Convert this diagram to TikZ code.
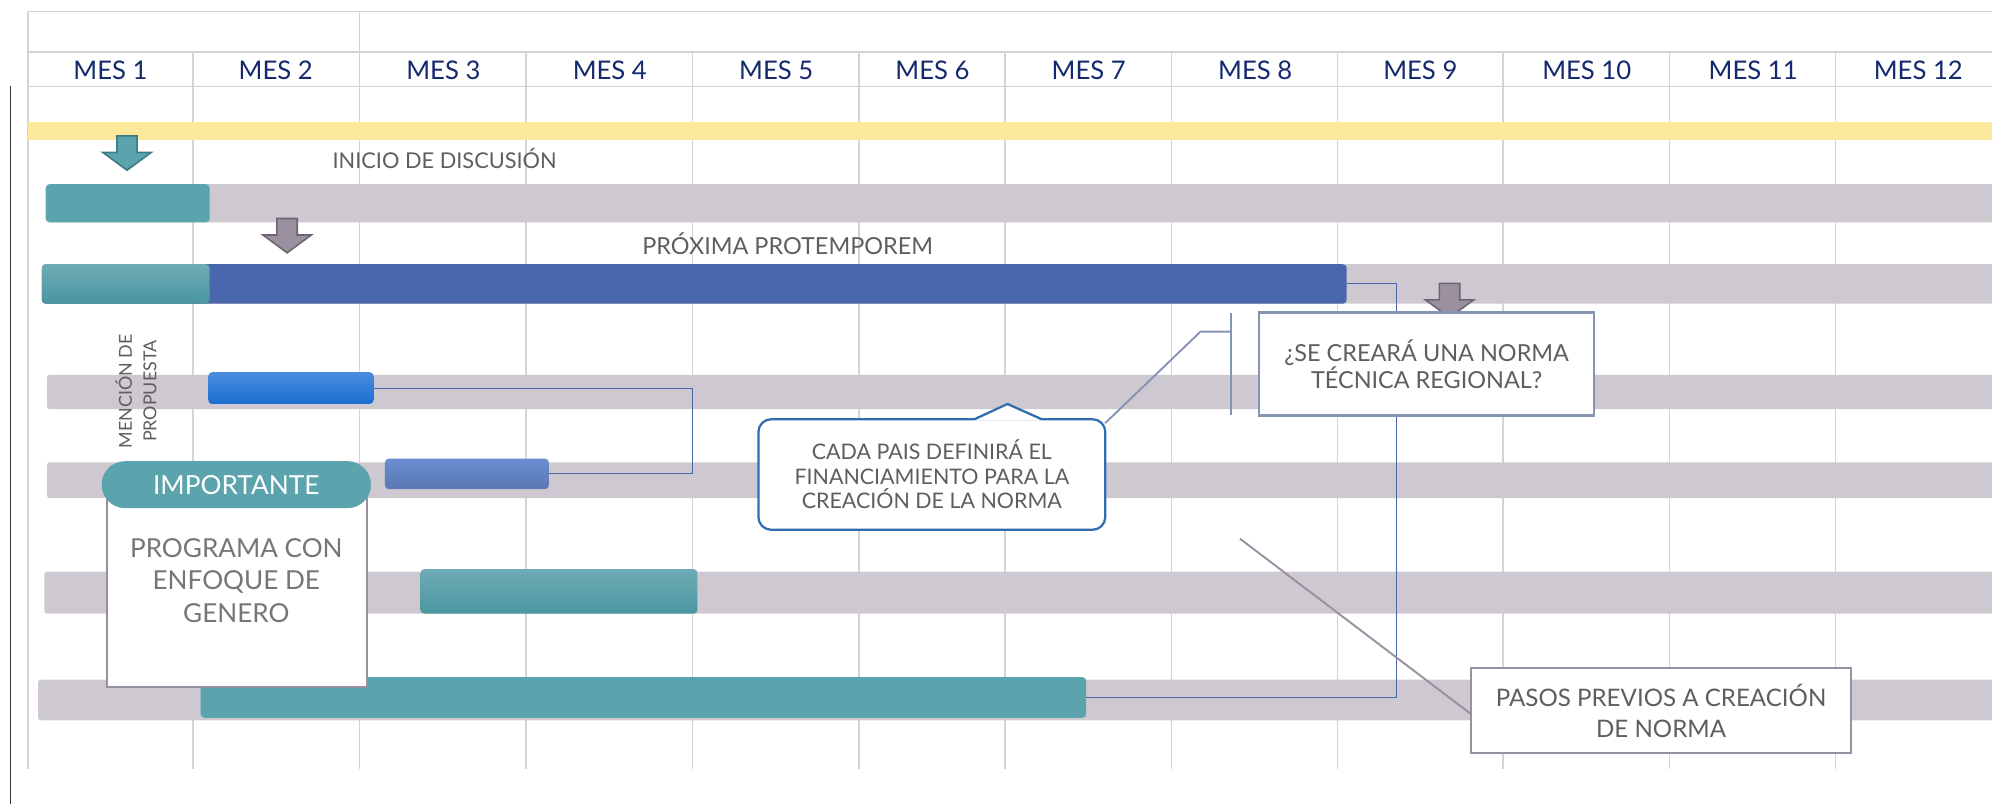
\documentclass[tikz,border=0pt]{standalone}
\usepackage{fontspec}
\setmainfont{Lato}
\usetikzlibrary{fit,calc}

\definecolor{gridgrey}{HTML}{D4D4D4}
\definecolor{bandyellow}{HTML}{FDE99C}
\definecolor{rowgrey}{HTML}{CEC8D0}
\definecolor{tealbar}{HTML}{5BA3AD}
\definecolor{tealtop}{HTML}{6EABB6}
\definecolor{tealbot}{HTML}{4A969F}
\definecolor{bluebar}{HTML}{4A66AC}
\definecolor{brighttop}{HTML}{4A8CE0}
\definecolor{brightbot}{HTML}{1A6ECF}
\definecolor{mutedtop}{HTML}{6A8ED2}
\definecolor{mutedbot}{HTML}{5878B2}
\definecolor{linkblue}{HTML}{4A66AC}
\definecolor{monthblue}{HTML}{15296E}
\definecolor{labelgrey}{HTML}{5E5E5E}
\definecolor{notegrey}{HTML}{9A8FA0}
\definecolor{askgrey}{HTML}{8494B4}
\definecolor{callblue}{HTML}{2E6DB0}
\definecolor{arrowgrey}{HTML}{9A90A0}
\definecolor{arrowedge}{HTML}{6E6470}
\definecolor{tealedge}{HTML}{3A7A85}

\tikzset{
  dnarrow/.pic={
    \path[pic actions] (-8,0) -- (8,0) -- (8,13) -- (19,13) -- (0,27)
      -- (-19,13) -- (-8,13) -- cycle;
  }
}

\begin{document}
\begin{tikzpicture}[x=0.4mm,y=-0.4mm,
    gridline/.style={draw=gridgrey, line width=0.45mm},
    rowbar/.style={fill=rowgrey, rounded corners=0.8mm, inner sep=0pt},
    taskbar/.style={rounded corners=1.2mm, inner sep=0pt},
    link/.style={draw=linkblue, line width=0.3mm},
    label/.style={text=labelgrey, font=\fontsize{19.5}{22}\selectfont},
    note/.style={fill=white, line width=0.7mm, inner sep=0pt},
    month/.style={text=monthblue, font=\fontsize{23}{27}\selectfont}
  ]
  \useasboundingbox (0,0) rectangle (1568,633);

  % grid
  \draw[gridline] (22,9) -- (1568,9);
  \draw[gridline] (22,41) -- (1568,41);
  \draw[gridline] (22,68) -- (1568,68);
  \draw[gridline] (22,9) -- (22,605);
  \draw[gridline] (283,9) -- (283,605);
  \foreach \x in {152,414,545,676,791,922,1053,1183,1314,1445}
    \draw[gridline] (\x,41) -- (\x,605);
  \draw[black!80, line width=0.3mm] (8,68) -- (8,633);

  % months
  \foreach \m/\x in {1/87,2/217,3/349,4/480,5/611,6/734,7/857,8/988,9/1118,10/1249,11/1380,12/1510}
    \node[month] (mes\m) at (\x,55) {MES \m};

  \fill[bandyellow] (22,96) rectangle (1568,110);

  % rows
  \node[rowbar, fit={(37,145) (1575,175)}] (rowA) {};
  \node[rowbar, fit={(33,208) (1575,239)}] (rowB) {};
  \node[rowbar, fit={(37,295) (1575,322)}] (rowC) {};
  \node[rowbar, fit={(37,364) (1575,392)}] (rowD) {};
  \node[rowbar, fit={(35,450) (1575,483)}] (rowE) {};
  \node[rowbar, fit={(30,535) (1575,567)}] (rowF) {};

  % tasks
  \node[taskbar, fill=tealbar, fit={(36,145) (165,175)}] (taskA) {};
  \node[taskbar, fill=bluebar, fit={(33,208) (1060,239)}] (taskB) {};
  \node[taskbar, top color=tealtop, bottom color=tealbot, fit={(33,208) (165,239)}] (taskBa) {};
  \node[taskbar, top color=brighttop, bottom color=brightbot, fit={(164,293) (294,318)}] (taskC) {};
  \node[taskbar, top color=mutedtop, bottom color=mutedbot, fit={(303,361) (432,385)}] (taskD) {};
  \node[taskbar, top color=tealtop, bottom color=tealbot, fit={(331,448) (549,483)}] (taskE) {};
  \node[taskbar, fill=tealbar, fit={(158,533) (855,565)}] (taskF) {};

  % links
  \draw[link] (taskB.east) -- ++(39,0) |- (taskF.east);
  \draw[link] (taskC.east) -- ++(251,0) |- (taskD.east);

  % markers
  \pic[fill=tealbar, draw=tealedge, line width=0.5mm] at (100,107) {dnarrow};
  \pic[fill=arrowgrey, draw=arrowedge, line width=0.5mm] at (226,172) {dnarrow};
  \pic[fill=arrowgrey, draw=arrowedge, line width=0.5mm] at (1141,223) {dnarrow};

  % labels
  \node[label] (inicio) at (350,125) {INICIO DE DISCUSIÓN};
  \node[label, font=\fontsize{21}{24}\selectfont] (proxima) at (620,192) {PRÓXIMA PROTEMPOREM};
  \node[label, rotate=90, align=center, font=\fontsize{16}{22}\selectfont,
    inner sep=0pt] (mencion) at (107,308) {MENCIÓN DE\\PROPUESTA};

  % notes
  \node[note, draw=askgrey, fit={(991,246) (1255,327)}] (ask) {};
  \node[label, align=center, font=\fontsize{21}{22}\selectfont] at (ask.center) {¿SE CREARÁ UNA NORMA\\TÉCNICA REGIONAL?};
  \node[note, draw=callblue, rounded corners=4mm, fit={(597,330) (870,417)}] (cada) {};
  \node[label, align=center, font=\fontsize{19.2}{22}\selectfont] at (cada.center) {CADA PAIS DEFINIRÁ EL\\FINANCIAMIENTO PARA LA\\CREACIÓN DE LA NORMA};
  \fill[white] (767,331) -- (793,318) -- (820,331) -- cycle;
  \draw[callblue, line width=0.7mm] (767,330) -- (793,318) -- (820,330);
  \coordinate (brk) at (945,261);
  \draw[askgrey, line width=0.7mm] (969,246) -- (969,327);
  \draw[askgrey, line width=0.6mm] ($(cada.north east)+(-1,4)$) -- (brk) -- (969,261);

  \node[note, draw=notegrey, fit={(84,385) (289,541)}] (genero) {};
  \node[label, align=center, text=labelgrey!85, font=\fontsize{23.4}{29}\selectfont] at (186,457) {PROGRAMA CON\\ENFOQUE DE\\GENERO};
  \node[fill=tealbar, rounded corners=7.4mm, inner sep=0pt, fit={(80,363) (292,400)}] (importante) {};
  \node[text=white, font=\fontsize{23.5}{26}\selectfont] at (importante.center) {IMPORTANTE};

  \node[note, draw=notegrey, fit={(1158,526) (1457,593)}] (pasos) {};
  \node[label, align=center, font=\fontsize{21.6}{28}\selectfont] at (pasos.center) {PASOS PREVIOS A CREACIÓN\\DE NORMA};
  \coordinate (diag) at (976,424);
  \draw[notegrey, line width=0.6mm] (diag) -- ($(pasos.west)+(0,2)$);
\end{tikzpicture}
\end{document}
